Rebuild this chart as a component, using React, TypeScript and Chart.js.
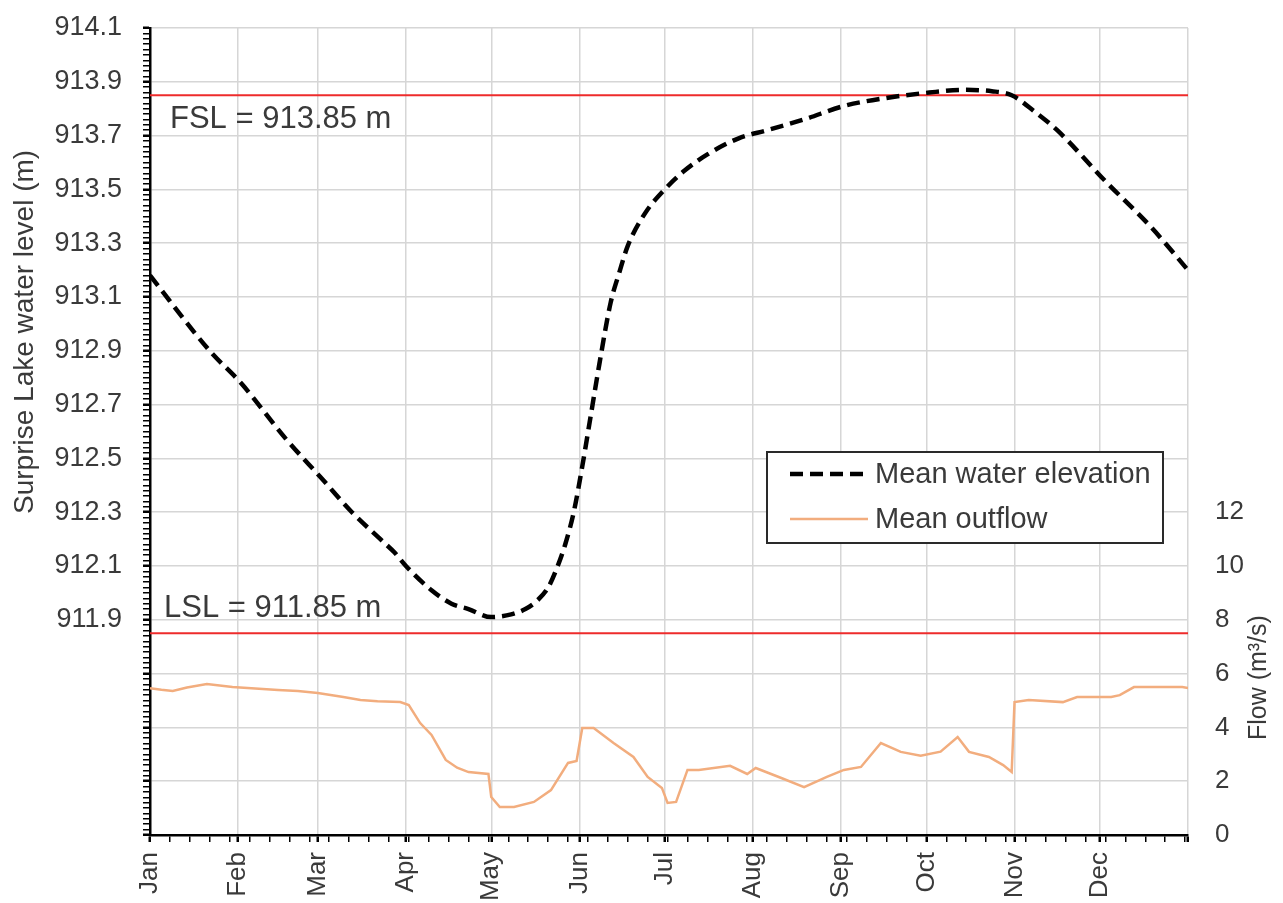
import React, { useEffect, useRef } from 'react';
import { Chart, registerables } from 'chart.js';

Chart.register(...registerables);

// ---------- data ----------
const monthLabels = ['Jan', 'Feb', 'Mar', 'Apr', 'May', 'Jun', 'Jul', 'Aug', 'Sep', 'Oct', 'Nov', 'Dec'];
const monthStartDays = [0, 31, 59, 90, 120, 151, 181, 212, 243, 273, 304, 334];
const yearEndDay = 365;

// Mean water elevation (m), sampled by day of year
const elevDays = [0, 21, 32, 48, 60, 71, 82, 86, 90, 99, 106, 112, 120, 127, 132, 136, 140, 143, 146, 149, 152, 155, 158, 162, 165, 168, 174, 181, 188, 196, 207, 217, 230, 244, 259, 274, 286, 296, 303, 311, 319, 336, 352, 365];
const elevValues = [913.18, 912.90, 912.78, 912.57, 912.43, 912.30, 912.19, 912.15, 912.10, 912.01, 911.96, 911.94, 911.91, 911.92, 911.94, 911.97, 912.02, 912.09, 912.18, 912.30, 912.47, 912.66, 912.85, 913.08, 913.19, 913.29, 913.41, 913.50, 913.57, 913.63, 913.69, 913.72, 913.76, 913.81, 913.84, 913.86, 913.87, 913.865, 913.85, 913.79, 913.72, 913.53, 913.36, 913.20];

// Mean outflow (m3/s), sampled by day of year
const flowDays = [0, 4, 8, 13, 20, 29, 37, 45, 52, 59, 68, 74, 80, 88, 91, 95, 99, 104, 108, 112, 119, 120, 123, 128, 135, 141, 147, 150, 152, 156, 163, 170, 175, 180, 182, 185, 189, 193, 204, 210, 213, 222, 230, 238, 244, 250, 257, 264, 271, 278, 284, 288, 295, 300, 303, 304, 309, 321, 326, 338, 341, 346, 363, 365];
const flowValues = [5.46, 5.40, 5.35, 5.48, 5.61, 5.50, 5.45, 5.39, 5.35, 5.28, 5.13, 5.02, 4.97, 4.94, 4.83, 4.16, 3.72, 2.79, 2.50, 2.34, 2.27, 1.41, 1.04, 1.04, 1.23, 1.67, 2.68, 2.75, 3.98, 3.98, 3.42, 2.90, 2.16, 1.75, 1.19, 1.23, 2.42, 2.42, 2.57, 2.27, 2.49, 2.12, 1.78, 2.16, 2.42, 2.53, 3.42, 3.09, 2.95, 3.10, 3.64, 3.09, 2.90, 2.60, 2.34, 4.94, 5.02, 4.94, 5.13, 5.13, 5.20, 5.50, 5.50, 5.46];

const FSL = 913.85;
const LSL = 911.85;

const elevAxisMin = 911.1;
const elevAxisMax = 914.1;
const elevTickLabels = ['911.9', '912.1', '912.3', '912.5', '912.7', '912.9', '913.1', '913.3', '913.5', '913.7', '913.9', '914.1'];

const flowAxisMax = 30;
const flowTickValues = [0, 2, 4, 6, 8, 10, 12];

const seriesLabels = ['Mean water elevation', 'Mean outflow'];

// ---------- styles ----------
const FONT = '"Liberation Sans", Arial, Helvetica, sans-serif';
const TEXT = '#3a3a3a';
const GRID = '#d6d6d6';
const ORANGE = '#f2ad7e';
const RED = '#ee2b2b';
const DASH = [13, 7];

const overlayPlugin = {
  id: 'overlay',
  afterDraw(chart: any) {
    const { ctx, chartArea, scales } = chart;
    const y = scales.y;
    const y2 = scales.y2;
    ctx.save();

    // level annotations
    ctx.fillStyle = TEXT;
    ctx.font = `31px ${FONT}`;
    ctx.textAlign = 'left';
    ctx.textBaseline = 'alphabetic';
    ctx.fillText(`FSL = ${FSL.toFixed(2)} m`, chartArea.left + 20, y.getPixelForValue(FSL) + 33);
    ctx.fillText(`LSL = ${LSL.toFixed(2)} m`, chartArea.left + 14, y.getPixelForValue(LSL) - 16);

    // left axis title, centred on labelled range
    const lTop = y.getPixelForValue(parseFloat(elevTickLabels[elevTickLabels.length - 1]));
    const lBot = y.getPixelForValue(parseFloat(elevTickLabels[0]));
    ctx.save();
    ctx.translate(25, (lTop + lBot) / 2 + 8);
    ctx.rotate(-Math.PI / 2);
    ctx.textAlign = 'center';
    ctx.textBaseline = 'middle';
    ctx.font = `28px ${FONT}`;
    ctx.fillText('Surprise Lake water level (m)', 0, 0);
    ctx.restore();

    // right axis title
    const rTop = y2.getPixelForValue(flowTickValues[flowTickValues.length - 1]);
    const rBot = y2.getPixelForValue(flowTickValues[0]);
    ctx.save();
    ctx.translate(1259, (rTop + rBot) / 2 + 4);
    ctx.rotate(-Math.PI / 2);
    ctx.textAlign = 'center';
    ctx.textBaseline = 'middle';
    ctx.font = `25px ${FONT}`;
    ctx.fillText('Flow (m\u00B3/s)', 0, 0);
    ctx.restore();

    // legend box
    const boxW = 396;
    const boxH = 91;
    const boxX = chartArea.right - 25 - boxW;
    const boxY = 452;
    ctx.fillStyle = '#ffffff';
    ctx.fillRect(boxX, boxY, boxW, boxH);
    ctx.strokeStyle = '#2a2a2a';
    ctx.lineWidth = 2;
    ctx.strokeRect(boxX, boxY, boxW, boxH);

    const rows = [boxY + 22, boxY + 67];
    ctx.strokeStyle = '#000';
    ctx.lineWidth = 4.5;
    ctx.setLineDash(DASH);
    ctx.beginPath();
    ctx.moveTo(boxX + 23, rows[0]);
    ctx.lineTo(boxX + 101, rows[0]);
    ctx.stroke();
    ctx.setLineDash([]);
    ctx.strokeStyle = ORANGE;
    ctx.lineWidth = 2.5;
    ctx.beginPath();
    ctx.moveTo(boxX + 23, rows[1]);
    ctx.lineTo(boxX + 101, rows[1]);
    ctx.stroke();

    ctx.fillStyle = TEXT;
    ctx.font = `29px ${FONT}`;
    ctx.textAlign = 'left';
    ctx.textBaseline = 'middle';
    ctx.fillText(seriesLabels[0], boxX + 108, rows[0] + 1);
    ctx.fillText(seriesLabels[1], boxX + 108, rows[1] + 1);

    ctx.restore();
  },
};

export default function App() {
  const canvasRef = useRef<HTMLCanvasElement | null>(null);

  useEffect(() => {
    if (!canvasRef.current) return;
    Chart.defaults.font.family = FONT;

    const elevData = elevDays.map((d, i) => ({ x: d, y: elevValues[i] }));
    const flowData = flowDays.map((d, i) => ({ x: d, y: flowValues[i] }));
    const fslData = [{ x: 0, y: FSL }, { x: yearEndDay, y: FSL }];
    const lslData = [{ x: 0, y: LSL }, { x: yearEndDay, y: LSL }];

    const xTickSet = new Set<number>();
    for (let d = 0; d < yearEndDay; d += 7) xTickSet.add(d);
    monthStartDays.forEach((d) => xTickSet.add(d));
    xTickSet.add(yearEndDay);
    const xTicks = Array.from(xTickSet).sort((a, b) => a - b);
    const isMajorX = (v: number) => monthStartDays.includes(v) || v === yearEndDay;

    const nMinor = Math.round((elevAxisMax - elevAxisMin) / 0.02);

    const chart = new Chart(canvasRef.current, {
      type: 'line',
      data: {
        datasets: [
          {
            label: seriesLabels[0],
            data: elevData,
            yAxisID: 'y',
            borderColor: '#000',
            borderWidth: 4.5,
            borderDash: DASH,
            pointRadius: 0,
            cubicInterpolationMode: 'monotone',
            fill: false,
          },
          {
            label: seriesLabels[1],
            data: flowData,
            yAxisID: 'y2',
            borderColor: ORANGE,
            borderWidth: 2.5,
            pointRadius: 0,
            tension: 0,
            fill: false,
          },
          {
            label: 'FSL',
            data: fslData,
            yAxisID: 'y',
            borderColor: RED,
            borderWidth: 2,
            pointRadius: 0,
          },
          {
            label: 'LSL',
            data: lslData,
            yAxisID: 'y',
            borderColor: RED,
            borderWidth: 2,
            pointRadius: 0,
          },
        ],
      },
      options: {
        animation: false,
        responsive: false,
        devicePixelRatio: 1,
        parsing: false,
        layout: { padding: { top: 28, left: 0, right: 0, bottom: 0 } },
        plugins: {
          legend: { display: false },
          tooltip: { enabled: false },
          title: { display: false },
        },
        scales: {
          x: {
            type: 'linear',
            min: 0,
            max: yearEndDay,
            afterBuildTicks: (scale: any) => {
              scale.ticks = xTicks.map((v) => ({ value: v }));
            },
            afterFit: (scale: any) => {
              scale.height = 68;
              scale.paddingLeft = 0;
              scale.paddingRight = 0;
            },
            ticks: {
              autoSkip: false,
              minRotation: 90,
              maxRotation: 90,
              padding: 10,
              color: TEXT,
              font: { size: 26, family: FONT },
              callback: (value: any) => {
                const i = monthStartDays.indexOf(Number(value));
                return i >= 0 ? monthLabels[i] : '';
              },
            },
            grid: {
              color: (c: any) => (c.tick && isMajorX(c.tick.value) ? GRID : 'rgba(0,0,0,0)'),
              lineWidth: 1.5,
              tickColor: '#000',
              tickLength: 7,
              tickWidth: (c: any) => (c.tick && isMajorX(c.tick.value) ? 2.5 : 1.5),
            },
            border: { display: true, color: '#000', width: 2.5 },
          },
          y: {
            type: 'linear',
            position: 'left',
            min: elevAxisMin,
            max: elevAxisMax,
            afterBuildTicks: (scale: any) => {
              const t = [];
              for (let i = 0; i <= nMinor; i++) t.push({ value: +(elevAxisMin + i * 0.02).toFixed(2) });
              scale.ticks = t;
            },
            afterFit: (scale: any) => {
              scale.width = 150;
              scale.paddingTop = 0;
              scale.paddingBottom = 0;
            },
            ticks: {
              autoSkip: false,
              padding: 21,
              color: TEXT,
              font: { size: 27, family: FONT },
              callback: (value: any, index: number) => {
                if (index % 10 !== 0) return '';
                const s = Number(value).toFixed(1);
                return elevTickLabels.includes(s) ? s : '';
              },
            },
            grid: {
              color: (c: any) => (c.index % 10 === 0 ? GRID : 'rgba(0,0,0,0)'),
              lineWidth: 1.5,
              tickColor: '#000',
              tickLength: 7,
              tickWidth: (c: any) => (c.index % 10 === 0 ? 2.5 : 1.5),
            },
            border: { display: true, color: '#000', width: 2.5 },
          },
          y2: {
            type: 'linear',
            position: 'right',
            min: 0,
            max: flowAxisMax,
            afterBuildTicks: (scale: any) => {
              scale.ticks = flowTickValues.map((v) => ({ value: v }));
            },
            afterFit: (scale: any) => {
              scale.width = 95;
              scale.paddingTop = 0;
              scale.paddingBottom = 0;
            },
            ticks: {
              autoSkip: false,
              padding: 27,
              color: TEXT,
              font: { size: 26, family: FONT },
              callback: (value: any) => String(value),
            },
            grid: { drawOnChartArea: false, drawTicks: false },
            border: { display: false },
          },
        },
      },
      plugins: [overlayPlugin],
    } as any);

    return () => chart.destroy();
  }, []);

  return (
    <div style={{ position: 'fixed', left: 0, top: 0, width: 1283, height: 903, background: '#fff' }}>
      <canvas ref={canvasRef} width={1283} height={903} style={{ display: 'block', width: 1283, height: 903 }} />
    </div>
  );
}
